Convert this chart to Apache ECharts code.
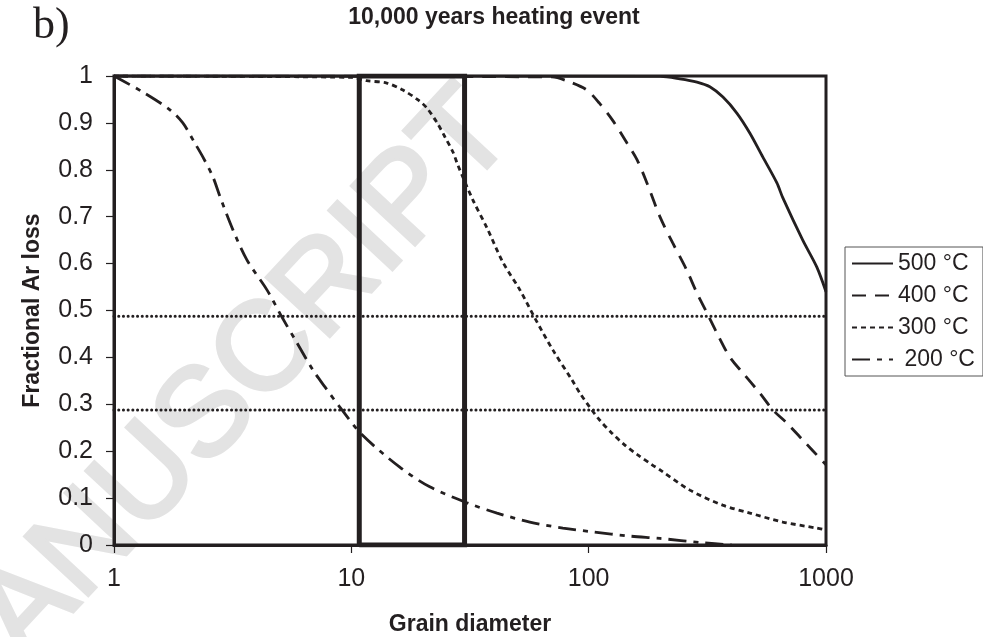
<!DOCTYPE html>
<html>
<head>
<meta charset="utf-8">
<script src="https://cdn.jsdelivr.net/npm/echarts@6/dist/echarts.min.js"></script>
<style>
  html, body { margin: 0; padding: 0; background: #fff; }
  #chart { width: 983px; height: 637px; }
</style>
</head>
<body>
<div id="chart"></div>
<script>
// grain diameter (x, log) / fractional Ar loss (y)
const x500 = [1, 200, 242, 286, 324, 368, 421, 478, 542, 621, 658, 798, 914, 1000];
const y500 = [1, 0.999, 0.994, 0.987, 0.977, 0.955, 0.921, 0.878, 0.827, 0.772, 0.74, 0.65, 0.593, 0.54];

const x400 = [1, 70, 83.4, 98.3, 111, 126, 145, 160, 176, 200, 226, 259, 286, 315, 347, 393, 446, 526, 597, 684, 798, 1000];
const y400 = [1, 0.998, 0.987, 0.97, 0.942, 0.906, 0.857, 0.821, 0.772, 0.699, 0.644, 0.586, 0.537, 0.495, 0.452, 0.401, 0.367, 0.324, 0.288, 0.26, 0.224, 0.171];

const x300 = [1, 10, 11.6, 14.1, 16.5, 19.1, 20.8, 23, 24.8, 26.8, 28.1, 32.5, 37.3, 43.5, 51.3, 59.3, 70.6, 85, 91.8, 101, 111, 125, 142, 161, 185, 200, 267, 367, 478, 658, 914, 1000];
const y300 = [1, 0.997, 0.99, 0.985, 0.97, 0.949, 0.932, 0.9, 0.87, 0.838, 0.81, 0.736, 0.676, 0.603, 0.544, 0.484, 0.416, 0.352, 0.324, 0.294, 0.267, 0.239, 0.213, 0.192, 0.171, 0.16, 0.117, 0.085, 0.068, 0.049, 0.036, 0.032];

const x200 = [1, 1.32, 1.72, 1.95, 2.19, 2.37, 2.61, 2.8, 3.17, 3.63, 4.41, 5.1, 5.9, 6.89, 7.74, 9.13, 11.1, 16, 21.4, 30.7, 41.1, 56.5, 77.8, 104, 149, 200, 300, 400];
const y200 = [1, 0.966, 0.928, 0.9, 0.857, 0.827, 0.785, 0.742, 0.672, 0.608, 0.544, 0.486, 0.431, 0.373, 0.337, 0.288, 0.235, 0.166, 0.124, 0.09, 0.068, 0.049, 0.036, 0.028, 0.019, 0.014, 0.005, 0];

// reference levels and highlighted grain-size window
const refLevels = [0.488, 0.288];
const boxX = [10.8, 10.8, 30, 30, 10.8];
const boxY = [0, 1, 1, 0, 0];

const seriesNames = ['500 °C', '400 °C', '300 °C', ' 200 °C'];

const ink = '#231f20';

function pairs(xs, ys) {
  return xs.map((x, i) => [x, ys[i]]);
}

function curve(name, xs, ys, dash) {
  return {
    name: name,
    type: 'line',
    data: pairs(xs, ys),
    symbol: 'none',
    smooth: 0.3,
    z: 3,
    itemStyle: { color: ink },
    lineStyle: { color: ink, width: 2.8, type: dash }
  };
}

const series = [
  curve(seriesNames[0], x500, y500, 'solid'),
  curve(seriesNames[1], x400, y400, [14, 9]),
  curve(seriesNames[2], x300, y300, [5, 4]),
  curve(seriesNames[3], x200, y200, [18, 7, 5, 7])
];

refLevels.forEach(v => {
  series.push({
    type: 'line',
    data: [[1, v], [1000, v]],
    symbol: 'none',
    silent: true,
    z: 2,
    lineStyle: { color: ink, width: 3, type: [0.1, 4.6], cap: 'round' }
  });
});

series.push({
  type: 'line',
  data: pairs(boxX, boxY),
  symbol: 'none',
  silent: true,
  z: 4,
  lineStyle: { color: ink, width: 5, join: 'miter' }
});

const chart = echarts.init(document.getElementById('chart'), null, { renderer: 'canvas' });

const option = {
  animation: false,
  backgroundColor: '#fff',
  title: {
    text: '10,000 years heating event',
    left: 494,
    top: 6,
    padding: 0,
    textAlign: 'center',
    textStyle: { fontFamily: 'Liberation Sans', fontWeight: 'bold', fontSize: 23, color: ink }
  },
  graphic: [
    {
      type: 'text',
      x: 210,
      y: 414,
      rotation: 47 * Math.PI / 180,
      z: -10,
      silent: true,
      style: {
        text: 'MANUSCRIPT',
        fill: '#e3e3e3',
        stroke: '#e3e3e3',
        lineWidth: 4,
        font: '125px "Liberation Sans"',
        align: 'center',
        verticalAlign: 'middle'
      }
    },
    {
      type: 'text',
      left: 33,
      top: 4,
      style: { text: 'b)', fill: ink, font: '44px "Liberation Serif"' }
    }
  ],
  legend: {
    data: seriesNames,
    orient: 'vertical',
    left: 845,
    top: 247,
    padding: [5, 8, 5, 6],
    itemGap: 9,
    itemWidth: 41,
    itemHeight: 14,
    selectedMode: false,
    borderColor: '#555',
    borderWidth: 1,
    itemStyle: { color: 'rgba(0,0,0,0)', borderWidth: 0 },
    textStyle: { fontFamily: 'Liberation Sans', fontSize: 23, color: ink }
  },
  grid: {
    left: 114,
    top: 76,
    right: 157,
    bottom: 92,
    outerBoundsMode: 'none',
    show: true,
    borderWidth: 3,
    borderColor: ink
  },
  xAxis: {
    type: 'log',
    logBase: 10,
    min: 1,
    max: 1000,
    name: 'Grain diameter',
    nameLocation: 'middle',
    nameGap: 68,
    nameTextStyle: { fontFamily: 'Liberation Sans', fontWeight: 'bold', fontSize: 23, color: ink },
    axisLine: { show: true, lineStyle: { color: ink, width: 3 } },
    axisTick: { show: true, inside: false, length: 8, lineStyle: { color: ink, width: 1.2 } },
    minorTick: { show: false },
    splitLine: { show: false },
    axisLabel: {
      margin: 22,
      fontFamily: 'Liberation Sans',
      fontSize: 25,
      color: ink,
      formatter: v => String(Math.round(v))
    }
  },
  yAxis: {
    type: 'value',
    min: 0,
    max: 1,
    interval: 0.1,
    name: 'Fractional Ar loss',
    nameLocation: 'middle',
    nameGap: 70,
    nameTextStyle: { fontFamily: 'Liberation Sans', fontWeight: 'bold', fontSize: 23, color: ink },
    axisLine: { show: true, lineStyle: { color: ink, width: 3 } },
    axisTick: { show: true, inside: false, length: 8, lineStyle: { color: ink, width: 1.2 } },
    splitLine: { show: false },
    axisLabel: {
      margin: 21,
      fontFamily: 'Liberation Sans',
      fontSize: 25,
      color: ink,
      formatter: v => String(Math.round(v * 10) / 10)
    }
  },
  series: series
};

chart.setOption(option);
</script>
</body>
</html>
